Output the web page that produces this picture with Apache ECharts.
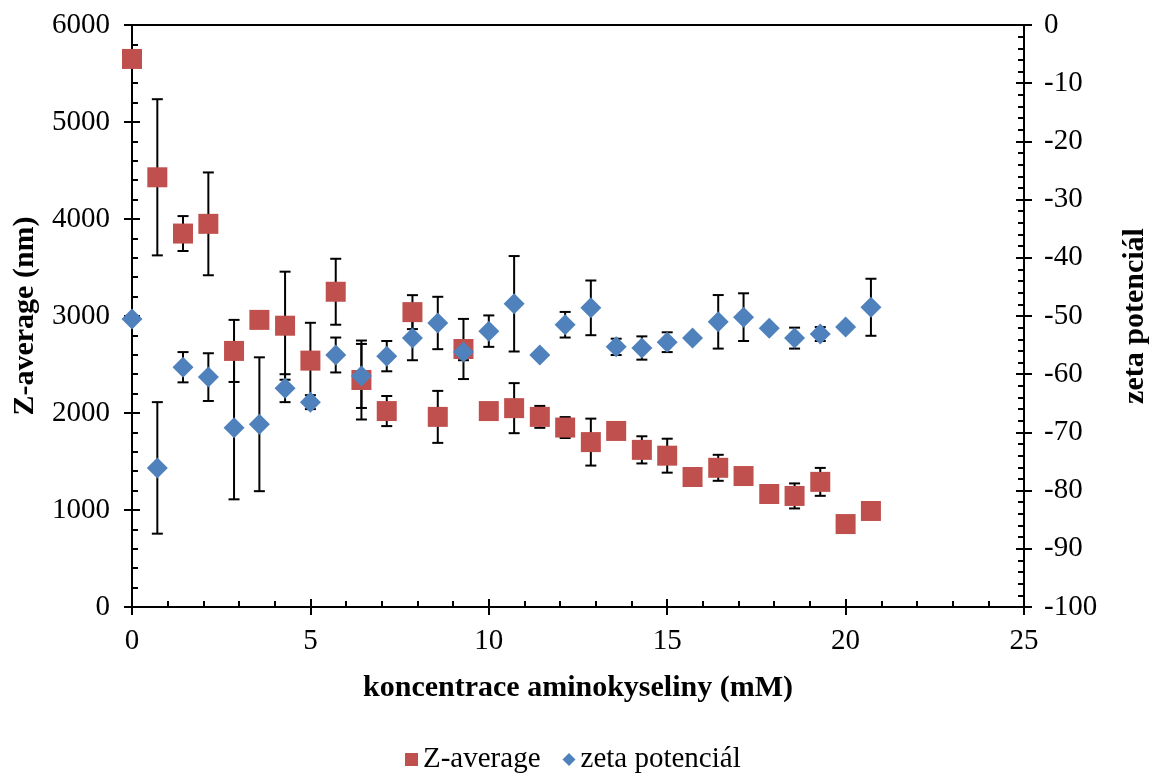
<!DOCTYPE html>
<html>
<head>
<meta charset="utf-8">
<script src="https://cdn.jsdelivr.net/npm/echarts@6/dist/echarts.min.js"></script>
<style>
  html, body { margin: 0; padding: 0; background: #fff; }
  #chart { width: 1149px; height: 776px; }
</style>
</head>
<body>
<div id="chart"></div>
<script>
// Concentration of the amino acid (mM)
const conc = [0, 0.71, 1.43, 2.14, 2.86, 3.57, 4.29, 5, 5.71, 6.43, 7.14, 7.86, 8.57, 9.29, 10,
  10.71, 11.43, 12.14, 12.86, 13.57, 14.29, 15, 15.71, 16.43, 17.14, 17.86, 18.57, 19.29, 20, 20.71];

// Z-average particle size (nm) and its standard deviation
const zAvg = [5650, 4430, 3850, 3950, 2640, 2960, 2900, 2540, 3250, 2340, 2020, 3040, 1960, 2660, 2020,
  2050, 1960, 1850, 1700, 1815, 1620, 1560, 1340, 1435, 1350, 1165, 1145, 1290, 855, 990];
const zAvgErr = [0, 805, 180, 530, 320, 0, 557, 390, 340, 407, 155, 175, 268, 310, 0,
  258, 113, 108, 242, 0, 140, 175, 0, 134, 0, 0, 129, 144, 0, 0];

// Zeta potential (mV) and its standard deviation
const zeta = [-50.5, -76.1, -58.8, -60.5, -69.2, -68.6, -62.4, -64.8, -56.7, -60.3, -56.9, -53.8, -51.2, -56.2, -52.6,
  -47.9, -56.7, -51.5, -48.6, -55.3, -55.5, -54.5, -53.8, -51.0, -50.2, -52.1, -53.8, -53.1, -51.9, -48.5];
const zetaErr = [0, 11.3, 2.6, 4.1, 12.3, 11.5, 2.4, 1.2, 3.0, 5.5, 2.6, 3.8, 4.5, 1.4, 2.7,
  8.2, 0, 2.2, 4.7, 1.4, 2.0, 1.7, 0, 4.6, 4.1, 0, 1.8, 1.2, 0, 4.9];

const FONT = '"Liberation Serif", "Times New Roman", serif';
const RED = '#C0504D';
const BLUE = '#4F81BD';

const pts = (ys) => conc.map((x, i) => [x, ys[i]]);
const bars = (ys, es) => conc
  .map((x, i) => [x, ys[i] - es[i], ys[i] + es[i], es[i]])
  .filter(d => d[3] > 0);

function errorBar(params, api) {
  const x = api.value(0);
  const lo = api.coord([x, api.value(1)]);
  const hi = api.coord([x, api.value(2)]);
  const cap = 5.5;
  const style = { stroke: '#000', lineWidth: 2 };
  return {
    type: 'group',
    children: [
      { type: 'line', shape: { x1: lo[0], y1: lo[1], x2: hi[0], y2: hi[1] }, style },
      { type: 'line', shape: { x1: hi[0] - cap, y1: hi[1], x2: hi[0] + cap, y2: hi[1] }, style },
      { type: 'line', shape: { x1: lo[0] - cap, y1: lo[1], x2: lo[0] + cap, y2: lo[1] }, style }
    ]
  };
}

const plain = (v) => String(v);
const axisLine = { show: true, lineStyle: { color: '#000', width: 2 } };
const labelStyle = { color: '#000', fontFamily: FONT, fontSize: 29, formatter: plain };
const nameStyle = { color: '#000', fontFamily: FONT, fontSize: 30, fontWeight: 'bold' };

// Each axis is drawn twice: once with outward ticks and labels, once with
// inward ticks and minor ticks, so that the major ticks cross the axis line.
const outerTick = { show: true, inside: false, length: 8, lineStyle: { color: '#000', width: 2 } };
const innerTick = { show: true, inside: true, length: 8, lineStyle: { color: '#000', width: 2 } };
const minor = { show: true, splitNumber: 5, length: 6, lineStyle: { color: '#000', width: 2 } };

const xBase = { type: 'value', min: 0, max: 25, interval: 5, position: 'bottom', splitLine: { show: false } };
const yLeftBase = { type: 'value', min: 0, max: 6000, interval: 1000, position: 'left', splitLine: { show: false } };
const yRightBase = { type: 'value', min: -100, max: 0, interval: 10, position: 'right', splitLine: { show: false } };

const option = {
  backgroundColor: '#fff',
  animation: false,
  grid: {
    left: 132, right: 125, top: 25, bottom: 169,
    outerBoundsMode: 'none', containLabel: false,
    show: true, borderColor: '#000', borderWidth: 2, backgroundColor: 'transparent'
  },
  legend: {
    left: 400, top: 740,
    itemWidth: 13, itemHeight: 13, itemGap: 22,
    textStyle: { color: '#000', fontFamily: FONT, fontSize: 29 },
    data: [
      { name: 'Z-average', icon: 'rect' },
      { name: 'zeta potenciál', icon: 'diamond' }
    ]
  },
  xAxis: [
    Object.assign({}, xBase, {
      axisLine, axisTick: outerTick, minorTick: { show: false },
      axisLabel: Object.assign({ margin: 20 }, labelStyle),
      name: 'koncentrace aminokyseliny (mM)', nameLocation: 'middle', nameGap: 66,
      nameTextStyle: nameStyle
    }),
    Object.assign({}, xBase, {
      axisLine: { show: false }, axisTick: innerTick, minorTick: minor,
      axisLabel: { show: false }
    })
  ],
  yAxis: [
    Object.assign({}, yLeftBase, {
      axisLine, axisTick: outerTick, minorTick: { show: false },
      axisLabel: Object.assign({ margin: 22 }, labelStyle),
      name: 'Z-average (nm)', nameLocation: 'middle', nameGap: 92, nameRotate: 90,
      nameTextStyle: nameStyle
    }),
    Object.assign({}, yLeftBase, {
      axisLine: { show: false }, axisTick: innerTick, minorTick: minor,
      axisLabel: { show: false }
    }),
    Object.assign({}, yRightBase, {
      axisLine, axisTick: outerTick, minorTick: { show: false },
      axisLabel: Object.assign({ margin: 20 }, labelStyle),
      name: 'zeta potenciál', nameLocation: 'middle', nameGap: 96, nameRotate: 90,
      nameTextStyle: nameStyle
    }),
    Object.assign({}, yRightBase, {
      axisLine: { show: false }, axisTick: innerTick, minorTick: minor,
      axisLabel: { show: false }
    })
  ],
  series: [
    {
      type: 'custom', name: 'Z-average error', xAxisIndex: 0, yAxisIndex: 0,
      renderItem: errorBar, encode: { x: 0, y: [1, 2] },
      data: bars(zAvg, zAvgErr), z: 1, silent: true
    },
    {
      type: 'custom', name: 'zeta error', xAxisIndex: 0, yAxisIndex: 2,
      renderItem: errorBar, encode: { x: 0, y: [1, 2] },
      data: bars(zeta, zetaErr), z: 1, silent: true
    },
    {
      type: 'scatter', name: 'Z-average', xAxisIndex: 0, yAxisIndex: 0,
      symbol: 'rect', symbolSize: 20,
      itemStyle: { color: RED, opacity: 1 },
      data: pts(zAvg), z: 3
    },
    {
      type: 'scatter', name: 'zeta potenciál', xAxisIndex: 0, yAxisIndex: 2,
      symbol: 'diamond', symbolSize: [21, 21],
      itemStyle: { color: BLUE, opacity: 1 },
      data: pts(zeta), z: 4
    }
  ]
};

const chart = echarts.init(document.getElementById('chart'), null, { renderer: 'canvas' });
chart.setOption(option);
</script>
</body>
</html>
